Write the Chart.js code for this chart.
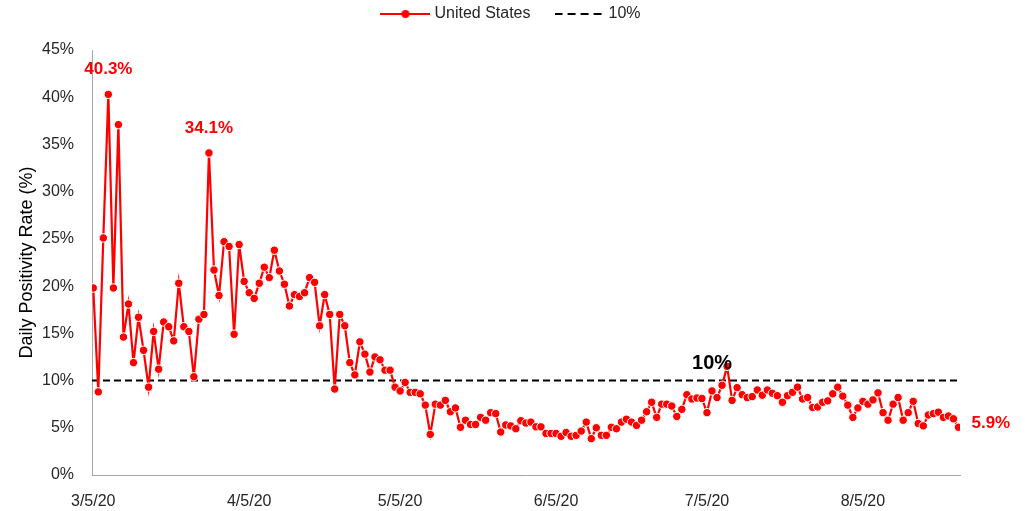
<!DOCTYPE html>
<html>
<head>
<meta charset="utf-8">
<title>Daily Positivity Rate</title>
<script src="https://cdn.jsdelivr.net/npm/chart.js@4.4.1/dist/chart.umd.min.js"></script>
<style>
  html, body { margin: 0; padding: 0; background: #fff; }
  #wrap { width: 1025px; height: 511px; }
</style>
</head>
<body>
<div id="wrap"><canvas id="chart" width="1025" height="511"></canvas></div>
<script>
// daily positivity rate (%), one value per day starting 3/5/20
const dailyRate = [
  19.8, 8.8, 25.1, 40.3, 19.8, 37.1, 14.6, 18.1, 11.9, 16.7,
  13.2, 9.3, 15.2, 11.2, 16.2, 15.7, 14.2, 20.3, 15.7, 15.2,
  10.4, 16.5, 17.0, 34.1, 21.7, 19.0, 24.7, 24.2, 14.9, 24.4,
  20.5, 19.3, 18.7, 20.3, 22.0, 20.9, 23.8, 21.6, 20.2, 17.9,
  19.1, 18.9, 19.3, 20.9, 20.4, 15.8, 19.1, 17.0, 9.1, 17.0,
  15.8, 11.9, 10.6, 14.1, 12.8, 10.9, 12.5, 12.2, 11.1, 11.1,
  9.3, 8.9, 9.8, 8.75, 8.75, 8.6, 7.4, 4.3, 7.5, 7.4,
  7.9, 6.7, 7.1, 5.05, 5.8, 5.35, 5.35, 6.1, 5.8, 6.6,
  6.5, 4.55, 5.3, 5.2, 4.9, 5.75, 5.5, 5.6, 5.1, 5.1,
  4.4, 4.4, 4.4, 4.1, 4.5, 4.1, 4.2, 4.65, 5.6, 3.85,
  5.0, 4.2, 4.2, 5.05, 4.9, 5.6, 5.9, 5.6, 5.25, 5.8,
  6.7, 7.7, 6.1, 7.5, 7.5, 7.3, 6.2, 6.95, 8.5, 8.05,
  8.15, 8.1, 6.6, 8.9, 8.2, 9.5, 11.5, 7.9, 9.25, 8.5,
  8.2, 8.3, 9.0, 8.45, 9.0, 8.65, 8.4, 7.7, 8.4, 8.75,
  9.3, 8.05, 8.2, 7.15, 7.2, 7.7, 7.85, 8.6, 9.3, 8.35,
  7.4, 6.1, 7.1, 7.8, 7.5, 7.95, 8.7, 6.6, 5.8, 7.5,
  8.2, 5.8, 6.6, 7.8, 5.45, 5.2, 6.35, 6.5, 6.65, 6.1,
  6.25, 5.95, 5.05
];
const threshold = 10;
const seriesNames = ['United States', '10%'];
const tickLabels = ['3/5/20', '4/5/20', '5/5/20', '6/5/20', '7/5/20', '8/5/20'];
const yTicks = [0, 5, 10, 15, 20, 25, 30, 35, 40, 45];

// date categories
const dates = [];
const start = new Date(2020, 2, 5);
for (let i = 0; i < dailyRate.length; i++) {
  const d = new Date(start.getFullYear(), start.getMonth(), start.getDate() + i);
  dates.push((d.getMonth() + 1) + '/' + d.getDate() + '/20');
}

const RED = '#FF0000';
const SANS = "'Liberation Sans', Arial, sans-serif";
const xMin = -0.25, xMax = dailyRate.length - 1 + 0.3;

// callout texts next to points
const callouts = [
  { i: 3, text: '40.3%', color: RED, size: 17, dx: 0, dy: -25, align: 'center' },
  { i: 23, text: '34.1%', color: RED, size: 17, dx: 0, dy: -25, align: 'center' },
  { i: 126, text: '10%', color: '#000', size: 20, dx: -15, dy: -3, align: 'center' },
  { i: dailyRate.length - 1, text: '5.9%', color: RED, size: 17, dx: 13, dy: -4, align: 'left' }
];

// legend icons: line with marker, dashed line
function makeIcon(color, dash, dot) {
  const c = document.createElement('canvas');
  c.width = 50; c.height = 10;
  const g = c.getContext('2d');
  g.strokeStyle = color;
  g.lineWidth = 2;
  g.setLineDash(dash);
  g.beginPath(); g.moveTo(0, 5); g.lineTo(50, 5); g.stroke();
  if (dot) {
    g.fillStyle = color;
    g.beginPath(); g.arc(25, 5, 4, 0, Math.PI * 2); g.fill();
  }
  return c;
}
const legendIcons = [makeIcon(RED, [], true), makeIcon('#000', [8, 5], false)];

const calloutPlugin = {
  id: 'callouts',
  afterDatasetsDraw(chart) {
    const { ctx, scales: { x, y } } = chart;
    ctx.save();
    ctx.textBaseline = 'middle';
    callouts.forEach(c => {
      ctx.font = 'bold ' + c.size + 'px ' + SANS;
      ctx.fillStyle = c.color;
      ctx.textAlign = c.align;
      ctx.fillText(c.text, x.getPixelForValue(c.i) + c.dx, y.getPixelForValue(dailyRate[c.i]) + c.dy);
    });
    ctx.restore();
  }
};

new Chart(document.getElementById('chart'), {
  type: 'line',
  data: {
    labels: dates,
    datasets: [{
      label: seriesNames[0],
      data: dailyRate.map((v, i) => ({ x: i, y: v })),
      borderColor: RED,
      borderWidth: 2.2,
      pointRadius: 4.2,
      pointBackgroundColor: RED,
      pointBorderColor: '#FFFFFF',
      pointBorderWidth: 1,
      tension: 0
    }, {
      label: seriesNames[1],
      data: [{ x: xMin, y: threshold }, { x: xMax, y: threshold }],
      borderColor: '#000',
      borderWidth: 2,
      borderDash: [7, 4],
      pointRadius: 0
    }]
  },
  options: {
    responsive: false,
    animation: false,
    layout: { padding: { top: -22, left: 0, right: 0, bottom: 0 } },
    plugins: {
      tooltip: { enabled: false },
      legend: {
        position: 'top',
        weight: 3000,
        labels: {
          usePointStyle: true,
          pointStyleWidth: 42,
          padding: 28,
          color: '#262626',
          font: { family: SANS, size: 16 },
          generateLabels: chart => chart.data.datasets.map((ds, i) => ({
            text: ds.label,
            pointStyle: legendIcons[i],
            datasetIndex: i,
            lineWidth: 0,
            strokeStyle: 'rgba(0,0,0,0)',
            fillStyle: 'rgba(0,0,0,0)',
            fontColor: '#262626',
            hidden: false
          }))
        }
      },
      title: { display: true, text: '', padding: 0, font: { size: 15, lineHeight: 1.2 } }
    },
    scales: {
      x: {
        type: 'linear',
        min: xMin,
        max: xMax,
        grid: { display: false, drawTicks: false },
        border: { display: true, color: '#a6a6a6', width: 1 },
        afterBuildTicks: axis => { axis.ticks = tickLabels.map(l => ({ value: dates.indexOf(l) })); },
        afterFit: s => { s.height = 36; },
        ticks: {
          autoSkip: false,
          maxRotation: 0,
          padding: 17,
          color: '#262626',
          font: { family: SANS, size: 16 },
          callback: v => dates[v]
        }
      },
      y: {
        min: 0,
        max: 45,
        grid: { display: false, drawTicks: false },
        border: { display: true, color: '#a6a6a6', width: 1 },
        afterBuildTicks: axis => { axis.ticks = yTicks.map(v => ({ value: v })); },
        afterFit: s => { s.width = 92; },
        ticks: {
          padding: 18,
          color: '#262626',
          font: { family: SANS, size: 16 },
          callback: v => v + '%'
        },
        title: {
          display: true,
          text: 'Daily Positivity Rate (%)',
          color: '#000',
          padding: { top: 16, bottom: 0 },
          font: { family: SANS, size: 18 }
        }
      },
      yRight: {
        position: 'right',
        min: 0,
        max: 45,
        grid: { display: false, drawTicks: false },
        border: { display: false },
        ticks: { display: false },
        afterFit: s => { s.width = 65; }
      }
    }
  },
  plugins: [calloutPlugin]
});
</script>
</body>
</html>
